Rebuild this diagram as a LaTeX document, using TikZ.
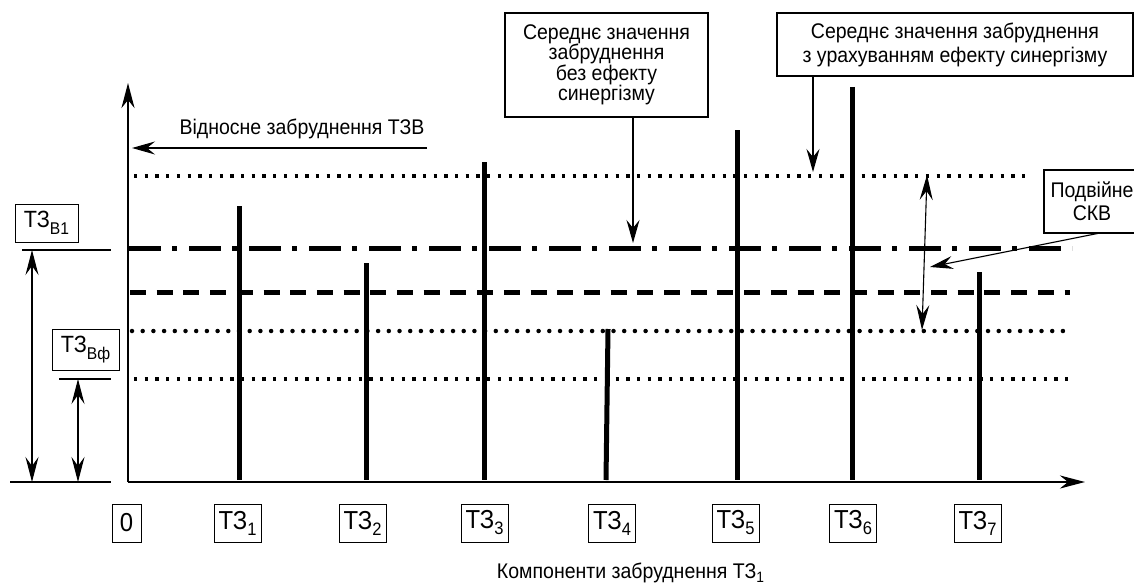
\documentclass[tikz,border=0pt]{standalone}
\usepackage{fontspec}
\setmainfont{Liberation Sans}[FakeStretch=0.92]
\usetikzlibrary{arrows.meta}
\newcommand{\dsub}[1]{\raisebox{-6pt}{\fontsize{18}{18}\selectfont #1}}
\newcommand{\ssub}[1]{\raisebox{-7pt}{\fontsize{17}{17}\selectfont #1}}
\newcommand{\csub}[1]{\raisebox{-4pt}{\fontsize{15}{15}\selectfont #1}}
\begin{document}
\begin{tikzpicture}[x=1pt,y=-1pt,
  lbl/.style={draw, line width=1pt, inner sep=0pt, font=\fontsize{26}{26}\selectfont, minimum height=38pt, minimum width=47pt},
  slbl/.style={draw, line width=1pt, inner sep=0pt, font=\fontsize{23.5}{23.5}\selectfont},
  txt/.style={font=\fontsize{21.2}{21.2}\selectfont, inner sep=0pt},
  tbox/.style={draw, line width=1.2pt, align=center, inner sep=0pt},
  thinl/.style={line width=1.1pt},
  arr/.style={thinl, -{Stealth[length=23pt,width=13pt,inset=8pt]}},
  darr/.style={thinl, {Stealth[length=25pt,width=13pt,inset=9pt]}-{Stealth[length=25pt,width=13pt,inset=9pt]}},
  axis/.style={line width=2.4pt, -{Stealth[length=25pt,width=13pt,inset=8pt]}},
  barl/.style={line width=5pt},
  sqdots/.style={line width=3.3pt, dash pattern=on 3.3pt off 7.4pt},
  rddots/.style={line width=4.5pt, line cap=round, dash pattern=on 0pt off 10.7pt},
  dashdotl/.style={line width=5pt, dash pattern=on 32pt off 11pt on 5pt off 12pt},
  dashedl/.style={line width=5pt, dash pattern=on 16pt off 10.7pt},
]
\useasboundingbox (0,0) rectangle (1134,583);
\clip (0,0) rectangle (1134,583);

% axes
\coordinate (O) at (128,482);
\coordinate (ytip) at (128,83);
\coordinate (xtip) at (1085,482);
\draw[axis] (O) -- (ytip);
\draw[axis] (O) -- (xtip);

% horizontal level lines
\coordinate (l1a) at (134,176); \coordinate (l1b) at (1030,176);
\coordinate (l2a) at (129,248); \coordinate (l2b) at (1072,248);
\coordinate (l3a) at (130,292); \coordinate (l3b) at (1070,292);
\coordinate (l4a) at (132,331); \coordinate (l4b) at (1072,331);
\coordinate (l5a) at (134,379); \coordinate (l5b) at (1070,379);
\draw[sqdots] (l1a) -- (l1b);
\draw[dashdotl] (l2a) -- (l2b);
\draw[dashedl] (l3a) -- (l3b);
\draw[rddots] (l4a) -- (l4b);
\draw[sqdots] (l5a) -- (l5b);

% bars
\coordinate (b1t) at (239,206); \coordinate (b1b) at (239,480);
\coordinate (b2t) at (366,263); \coordinate (b2b) at (366,480);
\coordinate (b3t) at (484,162); \coordinate (b3b) at (484,480);
\coordinate (b4t) at (608,329); \coordinate (b4b) at (606,480);
\coordinate (b5t) at (737,130); \coordinate (b5b) at (737,480);
\coordinate (b6t) at (852,87);  \coordinate (b6b) at (852,480);
\coordinate (b7t) at (979,272); \coordinate (b7b) at (979,480);
\foreach \i in {1,...,7} {\draw[barl] (b\i t) -- (b\i b);}

% bottom labels
\node[lbl, minimum width=29pt] (z0) at (126.5,523) {0};
\node[lbl] (t1) at (237.5,523) {ТЗ\dsub{1}};
\node[lbl] (t2) at (362.5,523) {ТЗ\dsub{2}};
\node[lbl] (t3) at (484.5,523) {ТЗ\dsub{3}};
\node[lbl] (t4) at (612,523) {ТЗ\dsub{4}};
\node[lbl] (t5) at (735.5,523) {ТЗ\dsub{5}};
\node[lbl] (t6) at (853,523) {ТЗ\dsub{6}};
\node[lbl] (t7) at (977.5,523) {ТЗ\dsub{7}};

\node[txt, anchor=base] (cap) at (630.5,578) {Компоненти забруднення ТЗ\csub{1}};

% y-axis label arrow
\node[txt, anchor=base] (ylab) at (302,135) {Відносне забруднення ТЗВ};
\coordinate (ya) at (427,148);
\coordinate (yb) at (132,148);
\draw[arr] (ya) -- (yb);

% left labels
\node[slbl, minimum width=63pt, minimum height=38pt] (tzb1) at (46.5,223) {ТЗ\ssub{В1}};
\node[slbl, minimum width=67pt, minimum height=41pt] (tzbf) at (85.5,349.5) {ТЗ\ssub{Вф}};
\coordinate (h1a) at (22,250); \coordinate (h1b) at (111,250);
\coordinate (h2a) at (59,379); \coordinate (h2b) at (111,379);
\coordinate (h0a) at (10,482); \coordinate (h0b) at (111,482);
\draw[thinl] (h1a) -- (h1b);
\draw[thinl] (h2a) -- (h2b);
\draw[thinl] (h0a) -- (h0b);
\coordinate (a1t) at (32,250); \coordinate (a1b) at (32,482);
\coordinate (a2t) at (78,379); \coordinate (a2b) at (78,482);
\draw[darr] (a1t) -- (a1b);
\draw[darr] (a2t) -- (a2b);

% top boxes
\node[tbox, minimum width=203pt, minimum height=104pt, font=\fontsize{21.2}{20.5}\selectfont] (bx1) at (606.5,65)
  {Середнє значення\\забруднення\\без ефекту\\синергізму};
\coordinate (bx1s) at (633,117);
\coordinate (bx1e) at (633,243);
\draw[arr] (bx1s) -- (bx1e);

\node[tbox, minimum width=356pt, minimum height=63pt, font=\fontsize{21.2}{24}\selectfont] (bx2) at (955,44.5)
  {Середнє значення забруднення\\з урахуванням ефекту синергізму};
\coordinate (bx2s) at (813,76);
\coordinate (bx2e) at (813,172);
\draw[arr] (bx2s) -- (bx2e);

\node[tbox, minimum width=96pt, minimum height=63pt, font=\fontsize{21.2}{23}\selectfont] (skv) at (1092,201.5)
  {Подвійне\\СКВ};
\coordinate (skvs) at (1100,233);
\coordinate (skve) at (930,267);
\draw[arr] (skvs) -- (skve);

\coordinate (d1) at (927,175);
\coordinate (d2) at (922,330);
\draw[darr] (d1) -- (d2);
\end{tikzpicture}
\end{document}
